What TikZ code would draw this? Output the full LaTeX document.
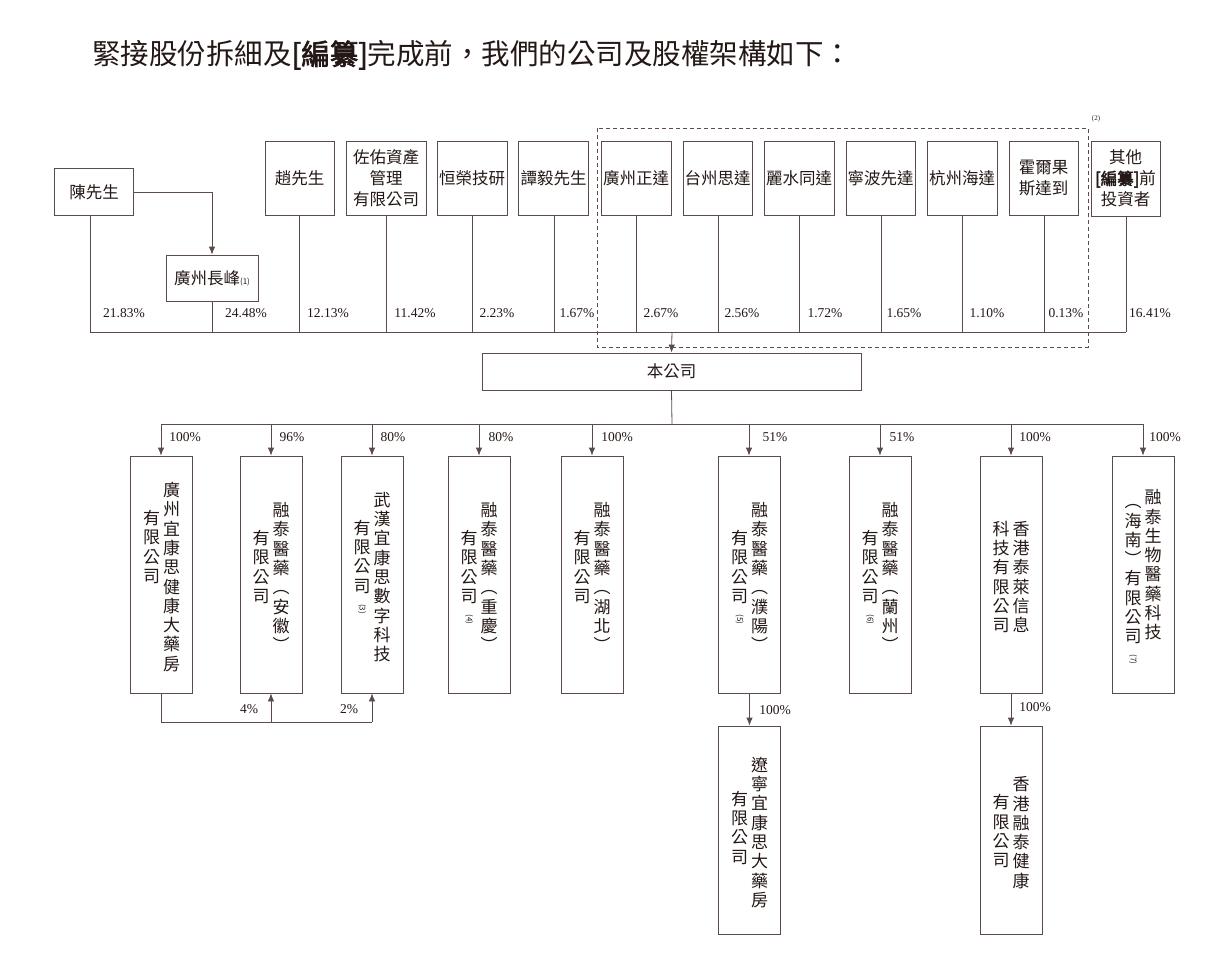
\documentclass[tikz,border=0pt]{standalone}
\usepackage{fontspec}
\usetikzlibrary{arrows.meta}
\setmainfont{Liberation Serif}
\newfontfamily\cjk[AutoFakeBold=2.5]{Noto Sans CJK TC}
\definecolor{lc}{HTML}{5B4B4B}
\definecolor{tc}{HTML}{231815}
\def\vend{\vend}
\def\vcolaux#1{\ifx\vend#1\else\hbox to 18pt{\hss#1\hss}\expandafter\vcolaux\fi}
\newcommand\vcol[1]{\baselineskip=19.3pt\lineskiplimit=-20pt\vcolaux#1\vend}
\newcommand\vtwo[3]{\hbox{\vtop{\hbox{}\kern#3\vcol{#2}}\kern2pt\vtop{\hbox{}\vcol{#1}}}}
\def\rsup#1{\rotatebox[origin=c]{-90}{\fontsize{8}{8}\selectfont(#1)}}
\def\sthree{\rsup{3}}\def\sfour{\rsup{4}}\def\sfive{\rsup{5}}\def\ssix{\rsup{6}}\def\sseven{\rsup{7}}
\begin{document}
\begin{tikzpicture}[x=1pt,y=-1pt,
  box/.style={draw=lc,line width=0.8pt,inner sep=0pt,text=tc,font=\cjk\fontsize{16.5}{21}\selectfont,align=center},
  ln/.style={draw=lc,line width=0.8pt},
  ar/.style={ln,-{Latex[length=8pt,width=6.5pt]},color=lc},
  pct/.style={text=tc,font=\fontsize{13.5}{15}\selectfont,inner sep=0pt}]
\useasboundingbox (0,0) rectangle (1229,974);
\node[text=tc,font=\cjk\fontsize{28.5}{30}\selectfont,anchor=west,inner sep=0pt] (title) at (92,55) {緊接股份拆細及{\bfseries[編纂]}完成前，我們的公司及股權架構如下：};
% top row
\node[box,minimum width=79pt,minimum height=47pt] (chen) at (94,192) {陳先生};
\node[box,minimum width=92pt,minimum height=46pt] (cf) at (212,278) {廣州長峰{\fontsize{8}{8}\selectfont(1)}};
\node[box,minimum width=69pt,minimum height=74pt] (zhao) at (299.5,178) {趙先生};
\node[box,minimum width=80pt,minimum height=74pt] (zy) at (386,178) {佐佑資產\\管理\\有限公司};
\node[box,minimum width=70pt,minimum height=74pt] (hr) at (472,178) {恒榮技研};
\node[box,minimum width=70pt,minimum height=74pt] (tan) at (553.5,178) {譚毅先生};
\node[box,minimum width=70pt,minimum height=74pt] (zd) at (636,178) {廣州正達};
\node[box,minimum width=69pt,minimum height=74pt] (tz) at (717.5,178) {台州思達};
\node[box,minimum width=70pt,minimum height=74pt] (ls) at (799,178) {麗水同達};
\node[box,minimum width=69pt,minimum height=74pt] (nb) at (880.5,178) {寧波先達};
\node[box,minimum width=70pt,minimum height=74pt] (hz) at (962,178) {杭州海達};
\node[box,minimum width=69pt,minimum height=74pt] (he) at (1043.5,178) {霍爾果\\斯達到};
\node[box,minimum width=69pt,minimum height=75pt] (qt) at (1125.5,178.5) {其他\\{\bfseries[編纂]}前\\投資者};
\draw[lc,line width=0.8pt,dash pattern=on 4pt off 3pt] (597,128) rectangle (1088,347);
\node[text=tc,font=\fontsize{7}{7}\selectfont,inner sep=0pt] (n2) at (1096,119) {(2)};
% bus
\coordinate (busL) at (90,332);
\coordinate (busR) at (1126,332);
\draw[ln] (busL) -- (busR);
\draw[ar] (chen.east |- 0,192) -| (cf.north);
\foreach \n/\x in {chen/90,cf/212,zhao/299,zy/386,hr/472,tan/554,zd/636,tz/718,ls/799,nb/881,hz/962,he/1044,qt/1126}
  \draw[ln] (\n.south -| \x,0) -- (\x,332);
\foreach \x/\t in {124/21.83\%,246/24.48\%,328/12.13\%,415/11.42\%,497/2.23\%,577/1.67\%,661/2.67\%,742/2.56\%,825/1.72\%,904/1.65\%,987/1.10\%,1066/0.13\%,1150/16.41\%}
  \node[pct] at (\x,313) {\t};
% company
\node[box,minimum width=379pt,minimum height=37pt] (co) at (671.5,371.5) {本公司};
\draw[ar] (672,332) -- (co.north);
\coordinate (bus2) at (672,424);
\draw[ln] (co.south) -- (bus2);
\draw[ln] (161,424) -- (1143,424);
% subsidiaries
\tikzset{sub/.style={box,minimum width=62pt,minimum height=237pt,font=\cjk\fontsize{17}{19}\selectfont}}
\node[sub] (s1) at (161.5,574.5) {\vtwo{廣州宜康思健康大藥房}{有限公司}{28pt}};
\node[sub] (s2) at (271,574.5) {\vtwo{融泰醫藥︵安徽︶}{有限公司}{28pt}};
\node[sub] (s3) at (372,574.5) {\vtwo{武漢宜康思數字科技}{有限公司\sthree}{28pt}};
\node[sub] (s4) at (479,574.5) {\vtwo{融泰醫藥︵重慶︶}{有限公司\sfour}{28pt}};
\node[sub] (s5) at (592,574.5) {\vtwo{融泰醫藥︵湖北︶}{有限公司}{28pt}};
\node[sub] (s6) at (749.5,574.5) {\vtwo{融泰醫藥︵濮陽︶}{有限公司\sfive}{28pt}};
\node[sub] (s7) at (880,574.5) {\vtwo{融泰醫藥︵蘭州︶}{有限公司\ssix}{28pt}};
\node[sub] (s8) at (1011,574.5) {\vtwo{香港泰萊信息}{科技有限公司}{0pt}};
\node[sub] (s9) at (1143,574.5) {\vtwo{融泰生物醫藥科技}{︵海南︶有限公司\sseven}{4pt}};
\node[sub,minimum height=208pt] (s6a) at (749.5,830) {\vtwo{遼寧宜康思大藥房}{有限公司}{34pt}};
\node[sub,minimum height=208pt] (s8a) at (1011,830) {\vtwo{香港融泰健康}{有限公司}{18pt}};
\foreach \n/\x/\t/\lx in {s1/161/100\%/185,s2/271/96\%/292,s3/372/80\%/393,s4/479/80\%/501,s5/592/100\%/617,s6/749/51\%/775,s7/880/51\%/902,s8/1011/100\%/1035,s9/1143/100\%/1165}{
  \draw[ar] (\x,424) -- (\n.north -| \x,0);
  \node[pct] at (\lx,437) {\t};}
\draw[ar] (s6.south) -- (s6a.north);
\node[pct] at (775,710) {100\%};
\draw[ar] (s8.south) -- (s8a.north);
\node[pct] at (1035,707) {100\%};
% cross holdings
\coordinate (bl) at (161,722);
\draw[ln] (s1.south -| bl) -- (bl) -- (372,722);
\draw[ar] (271,722) -- (s2.south);
\draw[ar] (372,722) -- (s3.south);
\node[pct] at (249,709) {4\%};
\node[pct] at (349,709) {2\%};
\end{tikzpicture}
\end{document}
